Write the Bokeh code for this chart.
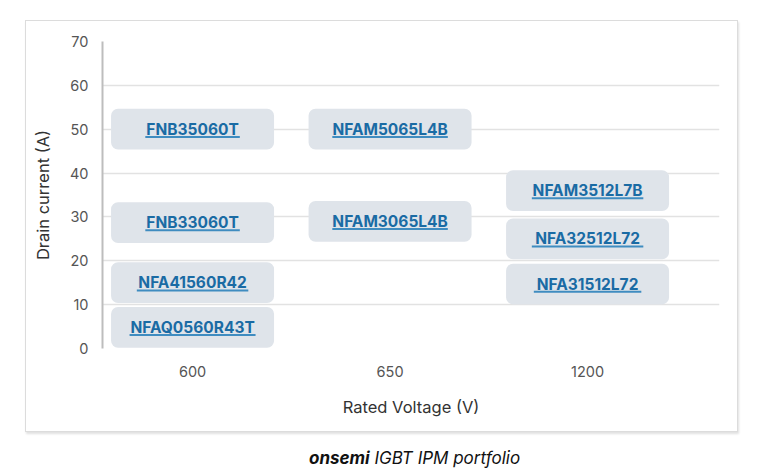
from bokeh.plotting import figure
from bokeh.models import Range1d, FixedTicker, Div, Spacer, ColumnDataSource
from bokeh.layouts import row, column
from bokeh.core.properties import value
from bokeh.embed import file_html
from bokeh.resources import INLINE

# ---- data ----
voltages = ["600", "650", "1200"]
y_ticks = [0, 10, 20, 30, 40, 50, 60, 70]
parts = ["FNB35060T", "FNB33060T", "NFA41560R42", "NFAQ0560R43T",
         "NFAM5065L4B", "NFAM3065L4B",
         "NFAM3512L7B", "NFA32512L72", "NFA31512L72"]
part_voltage = ["600", "600", "600", "600", "650", "650", "1200", "1200", "1200"]
part_current = [50, 28.7, 15, 4.8, 50, 29, 36, 25, 14.7]

# ---- geometry / style ----
FONT = "Inter"
x_start, x_end = -0.456, 2.668
frame_w_px = 617
dpp = (x_end - x_start) / frame_w_px  # data units per pixel (x)
box_w = 163 * dpp
box_h = 9.3


def text_px(t):
    return sum(6.5 if ch == "1" else 10.5 for ch in t)


xs = [voltages.index(v) for v in part_voltage]
ul_half = [text_px(t) * dpp / 2 for t in parts]
src = ColumnDataSource(dict(
    x=xs, y=part_current, label=parts,
    ux0=[x - h for x, h in zip(xs, ul_half)],
    ux1=[x + h for x, h in zip(xs, ul_half)],
    uy=[c - 1.75 for c in part_current],
))

p = figure(width=713, height=412, output_backend="svg", toolbar_location=None,
           x_range=Range1d(x_start, x_end), y_range=Range1d(0, 70),
           min_border_left=76, min_border_right=20, min_border_top=20,
           min_border_bottom=85,
           styles={"border": "1px solid #dcdcdc",
                   "box-shadow": "1px 2px 2px rgba(0,0,0,0.12)"})
p.outline_line_color = None
p.background_fill_color = "white"
p.border_fill_color = "white"

p.rect(x="x", y="y", width=box_w, height=box_h, source=src,
       fill_color="#dfe4ea", line_color=None, border_radius=7)
p.segment(x0="ux0", y0="uy", x1="ux1", y1="uy", source=src,
          line_color="#3f8cc0", line_width=2)
p.text(x="x", y="y", text="label", source=src,
       text_font=value(FONT), text_font_style="bold", text_font_size="15.5px",
       text_color="#1a6ba4", text_align="center", text_baseline="middle")

# axes
p.yaxis.ticker = FixedTicker(ticks=y_ticks)
p.xaxis.ticker = FixedTicker(ticks=list(range(len(voltages))))
p.xaxis.major_label_overrides = {i: v for i, v in enumerate(voltages)}
p.xaxis.axis_label = "Rated Voltage (V)"
p.yaxis.axis_label = "Drain current (A)"

for ax in (p.xaxis[0], p.yaxis[0]):
    ax.major_tick_line_color = None
    ax.minor_tick_line_color = None
    ax.major_label_text_font = FONT
    ax.major_label_text_font_size = "14.5px"
    ax.major_label_text_color = "#555555"
    ax.axis_label_text_font = FONT
    ax.axis_label_text_font_size = "16.5px"
    ax.axis_label_text_font_style = "normal"
    ax.axis_label_text_color = "#333333"

p.xaxis.axis_line_color = None
p.xaxis.major_label_standoff = 11
p.xaxis.axis_label_standoff = 17
p.yaxis.axis_line_color = "#bdbdbd"
p.yaxis.axis_line_width = 2
p.yaxis.major_label_standoff = 8
p.yaxis.axis_label_standoff = 14

p.xgrid.grid_line_color = None
p.ygrid.grid_line_color = "#e2e2e2"
p.ygrid.grid_line_width = 1.6

caption = Div(
    text='<span style="font-weight:bold">onsemi</span> IGBT IPM portfolio',
    width=713, height=30,
    styles={"font-family": "Inter", "font-style": "italic", "font-size": "17px",
            "color": "#111111", "padding-left": "279px", "margin-top": "14px"})

layout = row(Spacer(width=25), column(Spacer(height=20), p, caption))

open("out.html", "w").write(file_html(layout, INLINE))
